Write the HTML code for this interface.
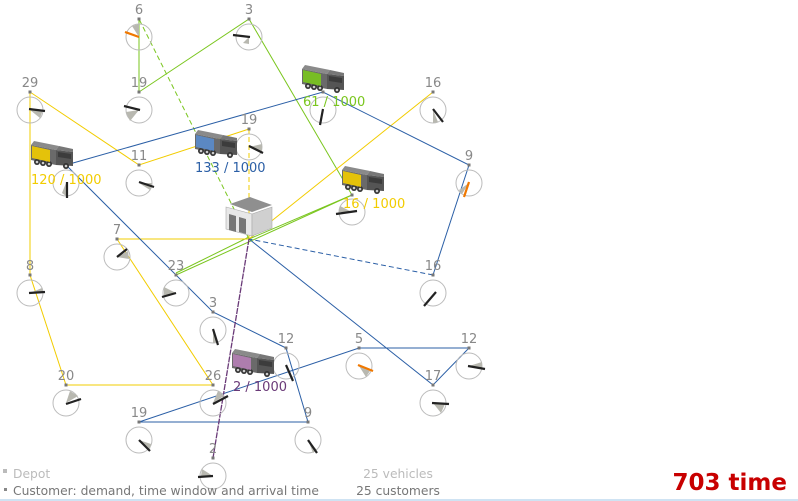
<!DOCTYPE html>
<html><head><meta charset="utf-8"><style>
html,body{margin:0;padding:0;background:#fff;width:798px;height:501px;overflow:hidden}
svg{display:block}
text{font-family:"DejaVu Sans","Liberation Sans",sans-serif}
</style></head><body>
<svg width="798" height="501" viewBox="0 0 798 501" xmlns="http://www.w3.org/2000/svg">
<defs>
<g id="truck">
  <polygon points="3,0 28,5 25,9 0,4" fill="#8a8a8a"/>
  <polygon points="0,4 25,9 25,24 0,19" fill="#6a6a6a"/>
  <polygon points="28,5 42,8 42,11 25,9" fill="#777"/>
  <polygon points="25,9 42,11 42,25 25,24" fill="#555"/>
  <polygon points="27,11 40,13 40,18 27,16" fill="#3c3c3c"/>
  <circle cx="6" cy="21" r="3" fill="#333"/><circle cx="6" cy="21" r="1.3" fill="#ccc"/>
  <circle cx="12" cy="22" r="3" fill="#333"/><circle cx="12" cy="22" r="1.3" fill="#ccc"/>
  <circle cx="18" cy="23" r="3" fill="#333"/><circle cx="18" cy="23" r="1.3" fill="#ccc"/>
  <circle cx="35" cy="25" r="3" fill="#333"/><circle cx="35" cy="25" r="1.3" fill="#ccc"/>
</g>
</defs>

<g fill="none" stroke-width="1">
<g stroke="#7ac61e">
<line x1="249" y1="239" x2="139" y2="19" stroke-dasharray="5,3"/>
<polyline points="139,19 139,92 249,19 352,195 176,275"/>
<line x1="352" y1="195" x2="249" y2="239"/>
<line x1="176" y1="273" x2="249" y2="237"/>
</g>
<g stroke="#f2cc00">
<polyline points="249,239 117,239 213,385 66,385 30,275 30,92 139,165 249,129"/>
<line x1="249" y1="129" x2="249" y2="239" stroke-dasharray="5,3"/>
<line x1="249" y1="239" x2="433" y2="92"/>
</g>
<g stroke="#2b5fa6">
<polyline points="66,165 323,92 469,165 433,275"/>
<line x1="433" y1="275" x2="249" y2="239" stroke-dasharray="5,3"/>
<polyline points="66,165 213,312 286,348 308,422 139,422 359,348 469,348 433,385 249,239"/>
</g>
<line x1="249" y1="239" x2="213" y2="458" stroke="#6a3a78" stroke-width="1.3" stroke-dasharray="6,1"/>
</g>

<g stroke="#bbb" fill="none" stroke-width="1">
<circle cx="139" cy="37" r="13"/><circle cx="249" cy="37" r="13"/>
<circle cx="139" cy="110" r="13"/><circle cx="30" cy="110" r="13"/>
<circle cx="323" cy="110" r="13"/><circle cx="249" cy="147" r="13"/>
<circle cx="433" cy="110" r="13"/><circle cx="139" cy="183" r="13"/>
<circle cx="66" cy="183" r="13"/><circle cx="469" cy="183" r="13"/>
<circle cx="352" cy="212" r="13"/><circle cx="117" cy="257" r="13"/>
<circle cx="30" cy="293" r="13"/><circle cx="176" cy="293" r="13"/>
<circle cx="433" cy="293" r="13"/><circle cx="213" cy="330" r="13"/>
<circle cx="286" cy="366" r="13"/><circle cx="359" cy="366" r="13"/>
<circle cx="469" cy="366" r="13"/><circle cx="66" cy="403" r="13"/>
<circle cx="213" cy="403" r="13"/><circle cx="433" cy="403" r="13"/>
<circle cx="139" cy="440" r="13"/><circle cx="308" cy="440" r="13"/>
<circle cx="213" cy="476" r="13"/>
</g>
<g fill="#b8b8b0">
<path d="M139,37 L132,26 L139,24Z"/><path d="M249,37 L249,44 L243,43Z"/>
<path d="M139,110 L126,112 L130,121Z"/><path d="M30,110 L43,110 L40,118Z"/>
<path d="M433,110 L433,123 L438,122Z"/><path d="M249,147 L262,144 L262,151Z"/>
<path d="M139,183 L152,183 L150,190Z"/><path d="M469,183 L462,194 L459,190Z"/>
<path d="M352,212 L340,206 L339,212Z"/><path d="M117,257 L128,251 L129,259Z"/>
<path d="M30,293 L42,288 L43,293Z"/><path d="M176,293 L164,287 L164,297Z"/>
<path d="M213,330 L213,343 L218,342Z"/><path d="M359,366 L370,371 L366,377Z"/>
<path d="M469,366 L482,362 L482,369Z"/><path d="M66,403 L70,391 L78,396Z"/>
<path d="M213,403 L218,391 L224,396Z"/><path d="M433,403 L441,413 L445,404Z"/>
<path d="M139,440 L151,444 L150,449Z"/><path d="M308,440 L313,453 L317,450Z"/>
<path d="M213,476 L202,469 L201,476Z"/><path d="M66,183 L66,196 L62,193Z"/>
</g>
<g stroke="#222" stroke-width="2.2">
<line x1="233" y1="35" x2="250" y2="37"/><line x1="124" y1="106" x2="140" y2="110"/>
<line x1="29" y1="109" x2="45" y2="111"/><line x1="323" y1="109" x2="320" y2="125"/>
<line x1="249" y1="146" x2="263" y2="153"/><line x1="433" y1="109" x2="443" y2="122"/>
<line x1="139" y1="182" x2="154" y2="187"/><line x1="67" y1="182" x2="67" y2="198"/>
<line x1="336" y1="214" x2="357" y2="211"/><line x1="117" y1="257" x2="127" y2="249"/>
<line x1="29" y1="293" x2="45" y2="292"/><line x1="162" y1="297" x2="176" y2="293"/>
<line x1="424" y1="306" x2="436" y2="292"/><line x1="213" y1="329" x2="218" y2="345"/>
<line x1="286" y1="365" x2="293" y2="381"/><line x1="468" y1="366" x2="485" y2="369"/>
<line x1="66" y1="404" x2="81" y2="399"/><line x1="213" y1="404" x2="228" y2="396"/>
<line x1="432" y1="403" x2="449" y2="404"/><line x1="139" y1="440" x2="150" y2="451"/>
<line x1="308" y1="440" x2="317" y2="453"/><line x1="198" y1="477" x2="213" y2="476"/>
</g>
<g stroke="#f07800" stroke-width="2.2">
<line x1="125" y1="32" x2="139" y2="37"/><line x1="464" y1="197" x2="469" y2="182"/>
<line x1="358" y1="365" x2="373" y2="371"/>
</g>
<g fill="#777">
<rect x="137.5" y="17.5" width="3" height="3"/><rect x="247.5" y="17.5" width="3" height="3"/>
<rect x="137.5" y="90.5" width="3" height="3"/><rect x="28.5" y="90.5" width="3" height="3"/>
<rect x="321.5" y="90.5" width="3" height="3"/><rect x="247.5" y="127.5" width="3" height="3"/>
<rect x="431.5" y="90.5" width="3" height="3"/><rect x="137.5" y="163.5" width="3" height="3"/>
<rect x="64.5" y="163.5" width="3" height="3"/><rect x="467.5" y="163.5" width="3" height="3"/>
<rect x="350.5" y="193.5" width="3" height="3"/><rect x="115.5" y="237.5" width="3" height="3"/>
<rect x="28.5" y="273.5" width="3" height="3"/><rect x="174.5" y="273.5" width="3" height="3"/>
<rect x="431.5" y="273.5" width="3" height="3"/><rect x="211.5" y="310.5" width="3" height="3"/>
<rect x="284.5" y="346.5" width="3" height="3"/><rect x="357.5" y="346.5" width="3" height="3"/>
<rect x="467.5" y="346.5" width="3" height="3"/><rect x="64.5" y="383.5" width="3" height="3"/>
<rect x="211.5" y="383.5" width="3" height="3"/><rect x="431.5" y="383.5" width="3" height="3"/>
<rect x="137.5" y="420.5" width="3" height="3"/><rect x="306.5" y="420.5" width="3" height="3"/>
<rect x="211.5" y="456.5" width="3" height="3"/>
</g>
<g fill="#888" font-size="13" text-anchor="middle">
<text x="139" y="14">6</text><text x="249" y="14">3</text>
<text x="139" y="87">19</text><text x="30" y="87">29</text>
<text x="249" y="124">19</text><text x="433" y="87">16</text>
<text x="139" y="160">11</text><text x="469" y="160">9</text>
<text x="117" y="234">7</text><text x="30" y="270">8</text>
<text x="176" y="270">23</text><text x="433" y="270">16</text>
<text x="213" y="307">3</text><text x="286" y="343">12</text>
<text x="359" y="343">5</text><text x="469" y="343">12</text>
<text x="66" y="380">20</text><text x="213" y="380">26</text>
<text x="433" y="380">17</text><text x="139" y="417">19</text>
<text x="308" y="417">9</text><text x="213" y="453">2</text>
</g>

<g>
<polygon points="230,204 250,197 272,205 252,212" fill="#8f8f8f"/>
<polygon points="226,207 252,214 252,236 226,229" fill="#e8e8e8" stroke="#aaa" stroke-width="0.6"/>
<polygon points="252,214 272,207 272,228 252,236" fill="#d0d0d0" stroke="#aaa" stroke-width="0.6"/>
<polygon points="229,214 236,216 236,232 229,230" fill="#777"/>
<polygon points="239,217 246,219 246,234 239,232" fill="#777"/>
</g>

<g transform="translate(31,141)"><use href="#truck"/><polygon points="1,5 19,9 19,21 1,17" fill="#f2cc00" opacity="0.9"/></g>
<g transform="translate(195,130)"><use href="#truck"/><polygon points="1,5 19,9 19,21 1,17" fill="#5a8ccc" opacity="0.9"/></g>
<g transform="translate(302,65)"><use href="#truck"/><polygon points="1,5 19,9 19,21 1,17" fill="#7ac61e" opacity="0.9"/></g>
<g transform="translate(342,166)"><use href="#truck"/><polygon points="1,5 19,9 19,21 1,17" fill="#f2cc00" opacity="0.9"/></g>
<g transform="translate(232,349)"><use href="#truck"/><polygon points="1,5 19,9 19,21 1,17" fill="#b67fb6" opacity="0.9"/></g>

<g font-size="13">
<text x="31" y="184" fill="#f2cc00">120 / 1000</text>
<text x="195" y="172" fill="#2b5fa6">133 / 1000</text>
<text x="303" y="106" fill="#7ac61e">61 / 1000</text>
<text x="343" y="208" fill="#f2cc00">16 / 1000</text>
<text x="233" y="391" fill="#6a3a78">2 / 1000</text>
</g>

<rect x="3" y="469" width="4" height="4" fill="#bbb"/>
<rect x="4" y="488" width="3" height="3" fill="#888"/>
<g font-size="12.3">
<text x="13" y="478" fill="#bbb">Depot</text>
<text x="13" y="495" fill="#777">Customer: demand, time window and arrival time</text>
<text x="398" y="478" fill="#bbb" text-anchor="middle">25 vehicles</text>
<text x="398" y="495" fill="#777" text-anchor="middle">25 customers</text>
</g>
<text x="787" y="490" fill="#c80000" font-size="23" font-weight="bold" text-anchor="end">703 time</text>
<rect x="0" y="499" width="798" height="2" fill="#cfe3f3"/>
</svg>
</body></html>
